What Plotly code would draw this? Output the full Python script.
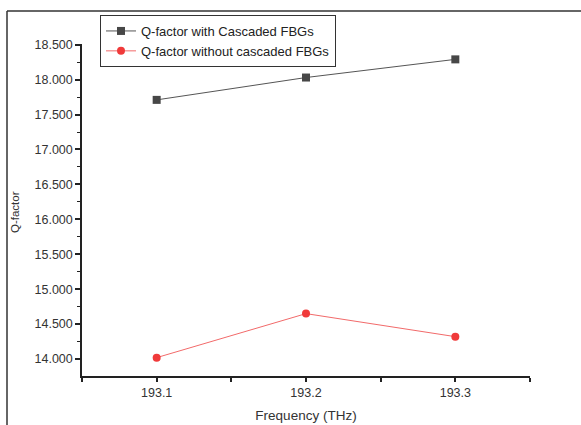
import plotly.graph_objects as go

freq = [193.1, 193.2, 193.3]
q_with = [17.71, 18.03, 18.29]
q_without = [14.02, 14.65, 14.32]
x_tickvals = [193.05, 193.1, 193.15, 193.2, 193.25, 193.3, 193.35]
x_ticktext = ["", "193.1", "", "193.2", "", "193.3", ""]

font_family = "Liberation Sans, Arial, sans-serif"
L, R, T, B = 82, 530, 44, 376
PW, PH = R - L, B - T

fig = go.Figure()
fig.add_trace(go.Scatter(
    x=freq, y=q_with, mode="lines+markers", name="Q-factor with Cascaded FBGs",
    line=dict(color="#555555", width=1),
    marker=dict(symbol="square", size=8, color="#474747"),
))
fig.add_trace(go.Scatter(
    x=freq, y=q_without, mode="lines+markers", name="Q-factor without cascaded FBGs",
    line=dict(color="#f26a6a", width=1),
    marker=dict(symbol="circle", size=8, color="#f03a3a"),
))

fig.update_layout(
    width=581, height=425,
    margin=dict(l=L, r=581 - R, t=T, b=425 - B, autoexpand=False),
    paper_bgcolor="white", plot_bgcolor="white",
    font=dict(family=font_family, size=12, color="#333333"),
    showlegend=True,
    legend=dict(
        x=(100 - L) / PW, y=(B - 15) / PH, xanchor="left", yanchor="top",
        bgcolor="white", bordercolor="#333333", borderwidth=1,
        font=dict(size=13, color="#222222"),
        tracegroupgap=0, itemwidth=30,
    ),
    xaxis=dict(
        range=[193.05, 193.35], tickvals=x_tickvals, ticktext=x_ticktext,
        showgrid=False, zeroline=False, showline=True, linecolor="#222222", linewidth=1.5,
        ticks="outside", ticklen=4, tickcolor="#222222", tickwidth=1.5,
        title=dict(text="Frequency (THz)", standoff=12, font=dict(size=13.5)),
        tickfont=dict(size=12.5),
    ),
    yaxis=dict(
        range=[13.757, 18.51], dtick=0.5, tick0=14.0, tickformat=".3f",
        showgrid=False, zeroline=False, showline=True, linecolor="#222222", linewidth=1.5,
        ticks="outside", ticklen=5, tickcolor="#222222", tickwidth=1.5,
        minor=dict(dtick=0.25, ticks="outside", ticklen=3, tickcolor="#222222", tickwidth=1, showgrid=False),
        tickfont=dict(size=12.5),
    ),
    annotations=[dict(
        text="Q-factor", textangle=-90, xref="paper", yref="paper",
        x=(15 - L) / PW, y=(B - 212) / PH, xanchor="center", yanchor="middle",
        showarrow=False, font=dict(size=11.5, color="#333333"),
    )],
    shapes=[
        dict(type="line", xref="paper", yref="paper",
             x0=(7 - L) / PW, x1=(600 - L) / PW,
             y0=(B - 11) / PH, y1=(B - 11) / PH,
             line=dict(color="#333333", width=1.5)),
        dict(type="line", xref="paper", yref="paper",
             x0=(7 - L) / PW, x1=(7 - L) / PW,
             y0=(B - 11) / PH, y1=(B - 440) / PH,
             line=dict(color="#333333", width=1.5)),
    ],
)

fig.write_html("out.html")
